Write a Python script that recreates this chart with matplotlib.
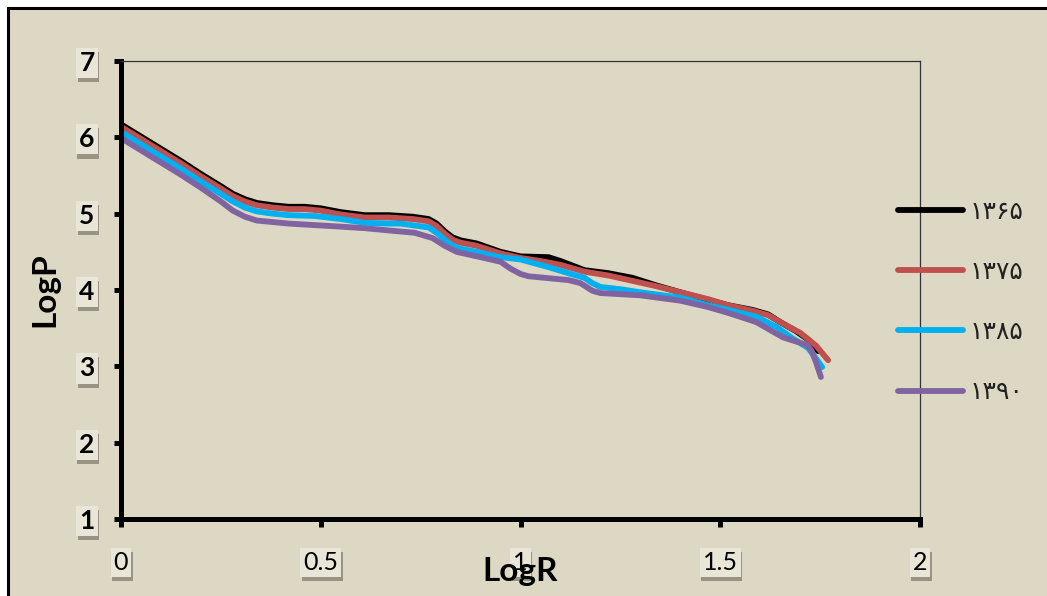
import matplotlib
matplotlib.use("Agg")
import matplotlib.pyplot as plt
from matplotlib.patches import Rectangle
from matplotlib.patheffects import SimplePatchShadow, Normal

# ---------------- data ----------------
series_labels = ["۱۳۶۵", "۱۳۷۵", "۱۳۸۵", "۱۳۹۰"]
series_colors = ["#000000", "#C0504D", "#00B0F0", "#8064A2"]

x_1365 = [0, 0.05, 0.1, 0.15, 0.2, 0.25, 0.28, 0.31, 0.34, 0.38, 0.42, 0.46, 0.5, 0.55, 0.61,
          0.67, 0.73, 0.77, 0.79, 0.81, 0.83, 0.85, 0.89, 0.95, 1.0, 1.07, 1.1, 1.16, 1.22,
          1.28, 1.34, 1.4, 1.47, 1.52, 1.58, 1.62, 1.65, 1.69, 1.72, 1.745]
y_1365 = [6.17, 6.01, 5.85, 5.69, 5.52, 5.36, 5.26, 5.19, 5.14, 5.11, 5.09, 5.09, 5.07, 5.02,
          4.98, 4.98, 4.96, 4.93, 4.87, 4.77, 4.69, 4.65, 4.61, 4.50, 4.44, 4.43, 4.38, 4.26,
          4.22, 4.16, 4.06, 3.97, 3.87, 3.80, 3.74, 3.68, 3.58, 3.46, 3.35, 3.20]

x_1375 = [0, 0.05, 0.1, 0.15, 0.2, 0.25, 0.28, 0.31, 0.34, 0.38, 0.42, 0.46, 0.5, 0.55, 0.61,
          0.67, 0.73, 0.77, 0.79, 0.81, 0.83, 0.85, 0.89, 0.95, 1.0, 1.05, 1.1, 1.16, 1.22,
          1.28, 1.34, 1.4, 1.47, 1.52, 1.58, 1.62, 1.66, 1.7, 1.74, 1.77]
y_1375 = [6.14, 5.98, 5.82, 5.66, 5.49, 5.33, 5.23, 5.16, 5.11, 5.08, 5.06, 5.06, 5.04, 4.99,
          4.95, 4.95, 4.93, 4.90, 4.84, 4.74, 4.66, 4.62, 4.58, 4.48, 4.42, 4.38, 4.33, 4.24,
          4.19, 4.12, 4.05, 3.97, 3.88, 3.80, 3.73, 3.67, 3.55, 3.44, 3.27, 3.08]

x_1385 = [0, 0.05, 0.1, 0.15, 0.2, 0.25, 0.28, 0.31, 0.34, 0.38, 0.42, 0.485, 0.55, 0.61,
          0.67, 0.7, 0.77, 0.79, 0.81, 0.83, 0.85, 0.89, 0.95, 1.0, 1.07, 1.12, 1.16, 1.18,
          1.2, 1.25, 1.3, 1.4, 1.47, 1.52, 1.59, 1.64, 1.68, 1.72, 1.74, 1.755]
y_1385 = [6.07, 5.91, 5.75, 5.59, 5.42, 5.26, 5.16, 5.08, 5.03, 5.00, 4.98, 4.97, 4.93, 4.88,
          4.87, 4.87, 4.82, 4.75, 4.66, 4.58, 4.54, 4.50, 4.43, 4.40, 4.30, 4.22, 4.16, 4.09,
          4.04, 4.01, 3.97, 3.90, 3.80, 3.74, 3.65, 3.52, 3.37, 3.24, 3.10, 2.99]

x_1390 = [0, 0.05, 0.1, 0.15, 0.2, 0.25, 0.28, 0.31, 0.34, 0.38, 0.42, 0.485, 0.55, 0.61,
          0.67, 0.735, 0.78, 0.81, 0.84, 0.9, 0.95, 0.975, 1.0, 1.02, 1.12, 1.15, 1.18, 1.2,
          1.3, 1.4, 1.467, 1.52, 1.59, 1.657, 1.717, 1.728, 1.74, 1.752]
y_1390 = [5.99, 5.83, 5.67, 5.51, 5.34, 5.16, 5.04, 4.96, 4.91, 4.89, 4.87, 4.85, 4.83, 4.81,
          4.78, 4.75, 4.68, 4.58, 4.50, 4.43, 4.37, 4.28, 4.21, 4.18, 4.13, 4.09, 3.99, 3.96,
          3.93, 3.86, 3.78, 3.70, 3.58, 3.38, 3.28, 3.21, 3.05, 2.86]

x_ticks = [0, 0.5, 1, 1.5, 2]
x_tick_labels = ["0", "0.5", "1", "1.5", "2"]
y_ticks = [1, 2, 3, 4, 5, 6, 7]
y_tick_labels = ["1", "2", "3", "4", "5", "6", "7"]
x_label = "LogR"
y_label = "LogP"

# ---------------- figure ----------------
BG = "#DDD8C3"
W, H = 1047, 596
fig = plt.figure(figsize=(W / 100, H / 100), dpi=100, facecolor="white")

# beige background panel with black border on left/top
fig.patches.append(Rectangle((8 / W, -0.1), 1.2, (H - 8) / H + 0.1, transform=fig.transFigure,
                             facecolor=BG, edgecolor="black", linewidth=2.2, zorder=-10))

ax = fig.add_axes([121 / W, (H - 519) / H, (920 - 121) / W, (519 - 61) / H])
ax.set_facecolor(BG)

xs = [x_1365, x_1375, x_1385, x_1390]
ys = [y_1365, y_1375, y_1385, y_1390]
for xv, yv, c, lab in zip(xs, ys, series_colors, series_labels):
    ax.plot(xv, yv, color=c, lw=4.2, solid_joinstyle="round", solid_capstyle="round", label=lab)

ax.set_xlim(0, 2)
ax.set_ylim(1, 7)
ax.set_xticks(x_ticks)
ax.set_xticklabels(x_tick_labels)
ax.set_yticks(y_ticks)
ax.set_yticklabels(y_tick_labels)

for s in ["left", "bottom"]:
    ax.spines[s].set_linewidth(3.6)
    ax.spines[s].set_color("black")
for s in ["top", "right"]:
    ax.spines[s].set_linewidth(0.9)
    ax.spines[s].set_color("#333333")

ax.tick_params(axis="y", direction="out", length=5, width=3.6, pad=14, labelsize=19)
ax.tick_params(axis="x", direction="out", length=6, width=3.6, pad=17, labelsize=18)

for lab in ax.get_yticklabels():
    lab.set_fontfamily("Lato")
    lab.set_fontweight("bold")
for lab in ax.get_xticklabels():
    lab.set_fontfamily("Lato")
for lab in list(ax.get_yticklabels()) + list(ax.get_xticklabels()):
    lab.set_bbox(dict(boxstyle="square,pad=0.12", facecolor="#EAE6D7", edgecolor="none"))
    lab.get_bbox_patch().set_path_effects([
        SimplePatchShadow(offset=(1, -3), shadow_rgbFace="#6B6658", alpha=0.6), Normal()])

fig.text(45 / W, (H - 290) / H, y_label, rotation=90, ha="center", va="center",
         fontsize=24, fontweight="bold", fontfamily="Lato")
fig.text(520 / W, (H - 572) / H, x_label, ha="center", va="center",
         fontsize=24, fontweight="bold", fontfamily="Lato")

leg = ax.legend(loc="center left", bbox_to_anchor=(898 / W, (H - 302) / H),
                bbox_transform=fig.transFigure, frameon=False, borderpad=0, borderaxespad=0,
                handlelength=2.6, handletextpad=0.25, labelspacing=1.45,
                prop={"family": "DejaVu Sans", "size": 18})
for t in leg.get_texts():
    t.set_color("#222222")

fig.savefig("out.png", dpi=100, facecolor=fig.get_facecolor())
